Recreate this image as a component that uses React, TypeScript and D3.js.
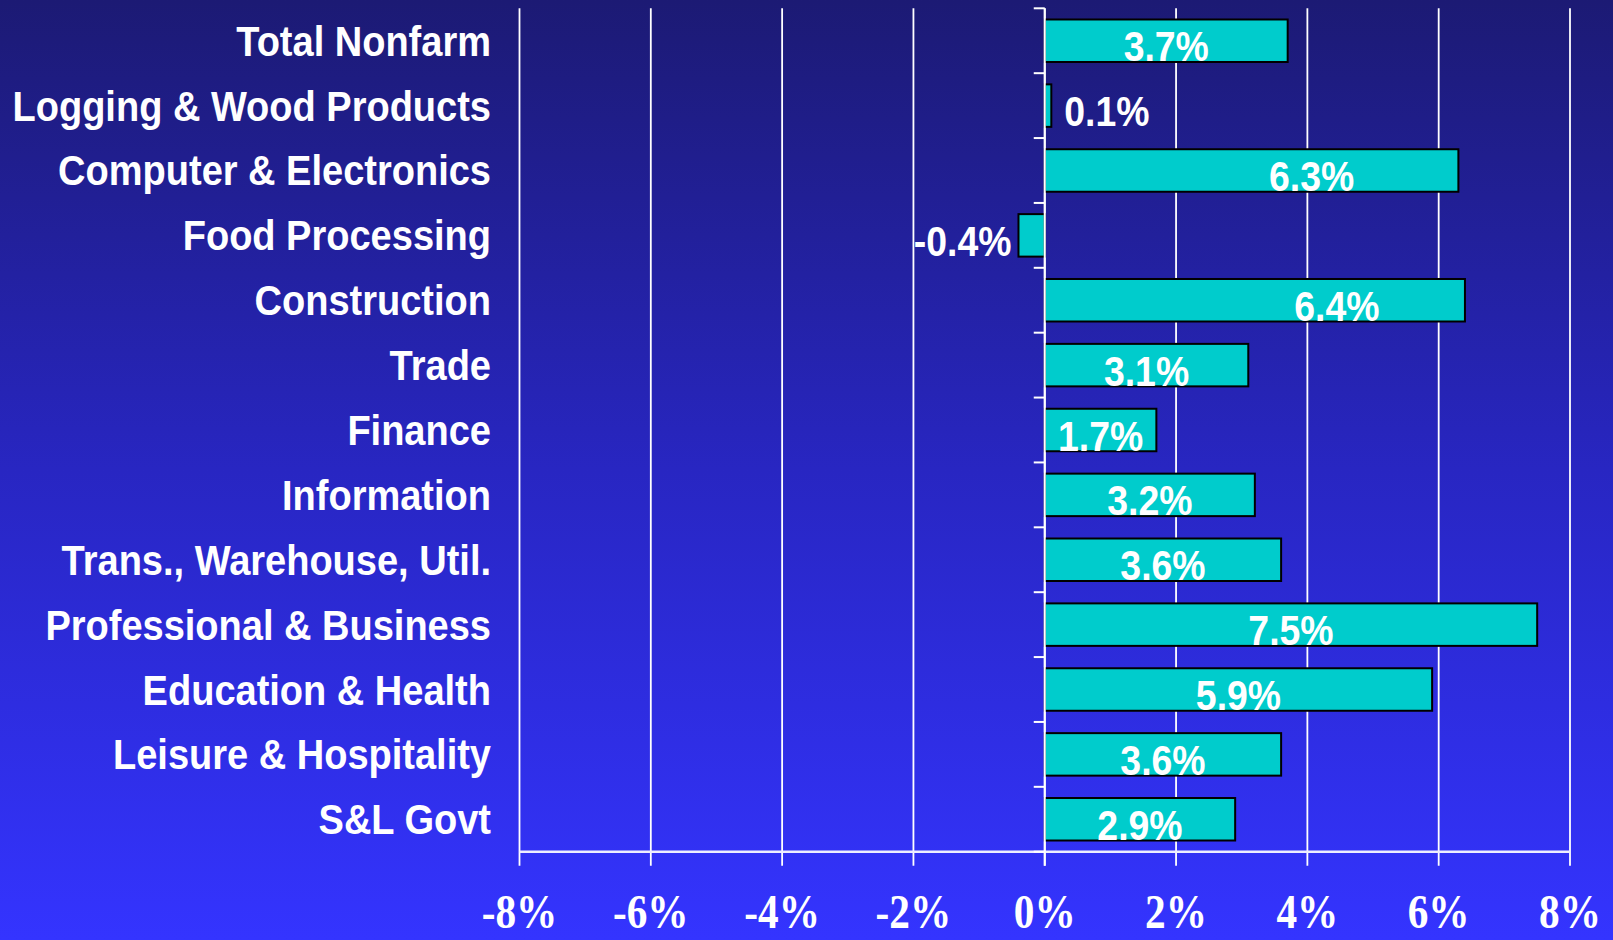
import React from "react";
import * as d3 from "d3";

const categories = [
  "Total Nonfarm",
  "Logging & Wood Products",
  "Computer & Electronics",
  "Food Processing",
  "Construction",
  "Trade",
  "Finance",
  "Information",
  "Trans., Warehouse, Util.",
  "Professional & Business",
  "Education & Health",
  "Leisure & Hospitality",
  "S&L Govt",
];
const values = [3.7, 0.1, 6.3, -0.4, 6.4, 3.1, 1.7, 3.2, 3.6, 7.5, 5.9, 3.6, 2.9];
const xTicks = [-8, -6, -4, -2, 0, 2, 4, 6, 8];

// label placement tweaks (pixels), separate from data
const labelNudge: Record<number, number> = { 2: 60, 4: 82 };

const W = 1613;
const H = 940;
const left = 519.5;
const right = 1570;
const top = 8.3;
const bottom = 851.7;

export default function App() {
  const x = d3.scaleLinear().domain([-8, 8]).range([left, right]);
  const y = d3
    .scaleBand<string>()
    .domain(categories)
    .range([top, bottom])
    .paddingInner(0.345)
    .paddingOuter(0.1725);
  const step = y.step();
  const x0 = x(0);
  const labelFont = "'Liberation Sans', Arial, sans-serif";
  const sx = 0.89;
  const sxCat = 0.905;

  return (
    <svg
      width={W}
      height={H}
      style={{ position: "absolute", left: 0, top: 0, display: "block" }}
    >
      <defs>
        <linearGradient id="bg" x1="0" y1="0" x2="0" y2="1">
          <stop offset="0" stopColor="#1c1a74" />
          <stop offset="0.5" stopColor="#2826c2" />
          <stop offset="1" stopColor="#3434ff" />
        </linearGradient>
      </defs>
      <rect x={0} y={0} width={W} height={H} fill="url(#bg)" />

      {/* gridlines */}
      {xTicks.map((t) => (
        <line
          key={"g" + t}
          x1={x(t)}
          x2={x(t)}
          y1={top}
          y2={bottom + 14}
          stroke="#ffffff"
          strokeWidth={1.8}
        />
      ))}
      {/* bottom axis line */}
      <line x1={left} x2={right} y1={bottom} y2={bottom} stroke="#eeeeff" strokeWidth={2.5} />

      {/* bars */}
      {categories.map((c, i) => {
        const v = values[i];
        const bx = Math.min(x(v), x0);
        const bw = Math.abs(x(v) - x0);
        return (
          <rect
            key={"b" + i}
            x={bx}
            y={y(c)!}
            width={bw}
            height={y.bandwidth()}
            fill="#00cccc"
            stroke="#000000"
            strokeWidth={2}
          />
        );
      })}

      {/* zero axis with ticks */}
      <line x1={x0} x2={x0} y1={top} y2={bottom + 14} stroke="#ffffff" strokeWidth={2} />
      {d3.range(categories.length + 1).map((k) => (
        <line
          key={"t" + k}
          x1={x0 - 11}
          x2={x0}
          y1={top + k * step}
          y2={top + k * step}
          stroke="#ffffff"
          strokeWidth={2}
        />
      ))}

      {/* category labels */}
      {categories.map((c, i) => {
        const cy = y(c)! + y.bandwidth() / 2;
        return (
          <text
            key={"c" + i}
            transform={`translate(491,${cy + 15}) scale(${sxCat},1)`}
            textAnchor="end"
            fill="#ffffff"
            fontFamily={labelFont}
            fontWeight="bold"
            fontSize={42}
          >
            {c}
          </text>
        );
      })}

      {/* value labels */}
      {categories.map((c, i) => {
        const v = values[i];
        const cy = y(c)! + y.bandwidth() / 2;
        const txt = v.toFixed(1) + "%";
        let tx: number;
        let anchor: string;
        if (Math.abs(x(v) - x0) < 60) {
          if (v >= 0) {
            tx = x(v) + 13;
            anchor = "start";
          } else {
            tx = x(v) - 7;
            anchor = "end";
          }
        } else {
          tx = (x(v) + x0) / 2 + (labelNudge[i] || 0);
          anchor = "middle";
        }
        return (
          <text
            key={"v" + i}
            transform={`translate(${tx},${cy + 20.5}) scale(${sx},1)`}
            textAnchor={anchor}
            fill="#ffffff"
            fontFamily={labelFont}
            fontWeight="bold"
            fontSize={42}
          >
            {txt}
          </text>
        );
      })}

      {/* x tick labels */}
      {xTicks.map((t) => (
        <text
          key={"x" + t}
          transform={`translate(${x(t)},928) scale(0.86,1)`}
          textAnchor="middle"
          fill="#ffffff"
          fontFamily="'Liberation Serif', 'Times New Roman', serif"
          fontWeight="bold"
          fontSize={48}
        >
          {t + "%"}
        </text>
      ))}
    </svg>
  );
}
